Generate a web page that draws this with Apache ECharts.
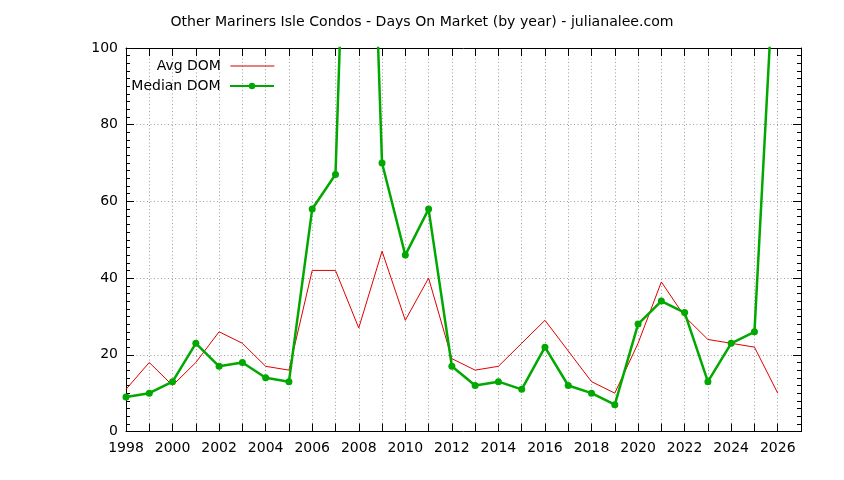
<!DOCTYPE html>
<html>
<head>
<meta charset="utf-8">
<script src="https://cdn.jsdelivr.net/npm/echarts@6/dist/echarts.min.js"></script>
<style>html,body{margin:0;padding:0;background:#fff}#c{width:844px;height:480px}</style>
</head>
<body>
<div id="c"></div>
<script>
const years = [1998,1999,2000,2001,2002,2003,2004,2005,2006,2007,2008,2009,2010,2011,2012,2013,2014,2015,2016,2017,2018,2019,2020,2021,2022,2023,2024,2025,2026];
const avgDom = [11,18,12,18,26,23,17,16,42,42,27,47,29,40,19,16,17,23,29,21,13,10,23,39,30,24,23,22,10];
const medianDom = [9,10,13,23,17,18,14,13,58,67,250,70,46,58,17,12,13,11,22,12,10,7,28,34,31,13,23,26,140];
const yTicks = [0,20,40,60,80,100];

const FONT = 'DejaVu Sans';
const RED = '#e00000', GREEN = '#00a800';
const chart = echarts.init(document.getElementById('c'));
const gridLine = {show: true, lineStyle: {color: '#a0a0a0', width: 1, type: [1, 2.5]}};
const axisLine = {show: true, onZero: false, lineStyle: {color: '#000', width: 1}};
const xCommon = {
  type: 'value', min: 1998, max: 2027, interval: 1,
  axisLine: axisLine,
  axisTick: {show: true, inside: true, length: 8, lineStyle: {color: '#000'}}
};
const yCommon = {
  type: 'value', min: yTicks[0], max: yTicks[yTicks.length - 1], interval: 20,
  axisLine: axisLine,
  axisTick: {show: true, inside: true, length: 8, lineStyle: {color: '#000'}},
  minorTick: {show: true, splitNumber: 10, length: 4, lineStyle: {color: '#000'}}
};
const legendText = {fontFamily: FONT, fontSize: 14, color: '#000'};
chart.setOption({
  animation: false,
  backgroundColor: '#fff',
  title: {
    text: 'Other Mariners Isle Condos - Days On Market (by year) - julianalee.com',
    left: 'center', top: 10,
    textStyle: {fontFamily: FONT, fontSize: 14.1, fontWeight: 'normal', color: '#000'}
  },
  legend: [
    {data: ['Avg DOM'], orient: 'vertical', align: 'right', right: 569, top: 59, padding: 0,
     itemWidth: 44, itemHeight: 8, formatter: n => n + ' ',
     itemStyle: {opacity: 0},
     lineStyle: {color: '#d00000', width: 1.2},
     textStyle: legendText},
    {data: ['Median DOM'], orient: 'vertical', align: 'right', right: 569, top: 79, padding: 0,
     itemWidth: 44, itemHeight: 8, formatter: n => n + ' ',
     textStyle: legendText}
  ],
  grid: {left: 126, right: 43, top: 48, bottom: 48.5},
  xAxis: [
    Object.assign({}, xCommon, {
      position: 'bottom',
      splitLine: gridLine,
      axisLabel: {
        show: true, margin: 10, fontFamily: FONT, fontSize: 14, color: '#000',
        formatter: v => (v % 2 === 0 && v <= years[years.length - 1]) ? String(v) : ''
      }
    }),
    Object.assign({}, xCommon, {
      position: 'top', splitLine: {show: false}, axisLabel: {show: false}
    })
  ],
  yAxis: [
    Object.assign({}, yCommon, {
      position: 'left', splitLine: gridLine,
      axisLabel: {show: true, margin: 8, fontFamily: FONT, fontSize: 14, color: '#000'}
    }),
    Object.assign({}, yCommon, {
      position: 'right', splitLine: {show: false}, axisLabel: {show: false}
    })
  ],
  series: [
    {
      name: 'Avg DOM', type: 'line', xAxisIndex: 0, yAxisIndex: 0,
      data: years.map((y, i) => [y, avgDom[i]]),
      showSymbol: false, symbol: 'none',
      lineStyle: {color: RED, width: 1},
      itemStyle: {color: RED},
      clip: true, z: 2
    },
    {
      name: 'Median DOM', type: 'line', xAxisIndex: 0, yAxisIndex: 0,
      data: years.map((y, i) => [y, medianDom[i]]),
      symbol: 'circle', symbolSize: 7,
      lineStyle: {color: GREEN, width: 2.5},
      itemStyle: {color: GREEN},
      clip: true, z: 3
    }
  ]
});
</script>
</body>
</html>
